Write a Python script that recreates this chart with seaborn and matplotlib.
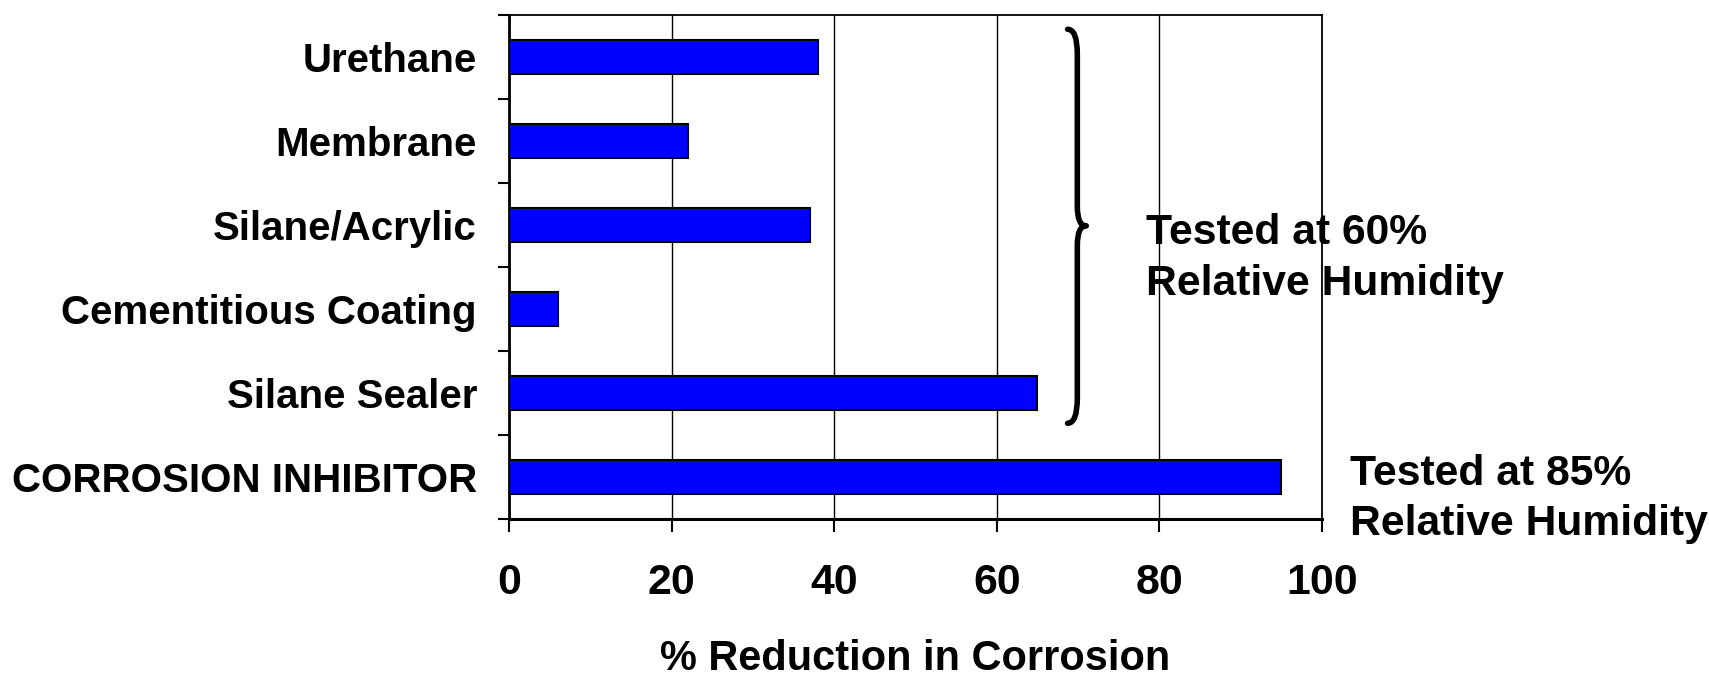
import numpy as np
import pandas as pd
import matplotlib
matplotlib.use("Agg")
import matplotlib.pyplot as plt
from matplotlib.path import Path
from matplotlib.patches import PathPatch
import seaborn as sns

categories = ["Urethane", "Membrane", "Silane/Acrylic", "Cementitious Coating",
              "Silane Sealer", "CORROSION INHIBITOR"]
reduction = [38, 22, 37, 6, 65, 95]
x_ticks = [0, 20, 40, 60, 80, 100]
x_label = "% Reduction in Corrosion"
note_60 = ["Tested at 60%", "Relative Humidity"]
note_85 = ["Tested at 85%", "Relative Humidity"]

sns.set_theme(style="white")
plt.rcParams['font.family'] = ['Liberation Sans', 'DejaVu Sans']
plt.rcParams['font.weight'] = 'bold'
plt.rcParams['text.color'] = 'black'
plt.rcParams['axes.labelcolor'] = 'black'
plt.rcParams['xtick.color'] = 'black'
plt.rcParams['ytick.color'] = 'black'
FS_Y = 29.0
FS_X = 30.8
FS_LBL = 29.9
FS_NOTE = 30.7

df = pd.DataFrame({"cat": categories, "val": reduction})

fig = plt.figure(figsize=(17.09, 6.78), dpi=100)
ax = fig.add_axes([0.2978, 0.2345, 0.4758, 0.7434])

sns.barplot(data=df, x="val", y="cat", orient="h", color="#0000FF",
            saturation=1, edgecolor="black", linewidth=1.5, width=0.4, ax=ax, zorder=3)

ax.set_xlim(0, 100)
ax.set_ylim(len(categories) - 0.5, -0.5)
ax.set_xticks(x_ticks)
ax.set_xticklabels([str(t) for t in x_ticks], fontsize=FS_X, fontweight='bold', color='black')
ax.set_yticks(range(len(categories)))
ax.set_yticklabels(categories, fontsize=FS_Y, fontweight='bold', color='black')
ax.set_yticks(np.arange(-0.5, len(categories), 1.0), minor=True)
ax.tick_params(axis='y', which='major', length=0, pad=23)
ax.tick_params(axis='y', which='minor', length=8, width=1.5, color='black', direction='out', left=True)
ax.tick_params(axis='x', which='major', length=9.5, width=1.5, color='black', direction='out', pad=22, bottom=True)
ax.set_xlabel(x_label, fontsize=FS_LBL, fontweight='bold', labelpad=26, color='black')
ax.set_ylabel("")

ax.grid(axis='x', color='black', linewidth=1.0, zorder=0)
ax.grid(axis='y', visible=False)
ax.set_axisbelow(True)
for side, lw in [("left", 2.0), ("bottom", 2.2), ("top", 1.3), ("right", 1.3)]:
    ax.spines[side].set_visible(True)
    ax.spines[side].set_color('black')
    ax.spines[side].set_linewidth(lw)

# curly brace
y0, ym, y1 = -0.33, 2.01, 4.36
xe, xs, xt = 68.7, 69.9, 71.0
c = 0.3
m = 0.23
verts = [(xe, y0), (xs, y0), (xs, y0 + c),
         (xs, ym - m),
         (xs, ym), (xt, ym),
         (xs, ym), (xs, ym + m),
         (xs, y1 - c),
         (xs, y1), (xe, y1)]
codes = [Path.MOVETO, Path.CURVE3, Path.CURVE3,
         Path.LINETO,
         Path.CURVE3, Path.CURVE3,
         Path.CURVE3, Path.CURVE3,
         Path.LINETO,
         Path.CURVE3, Path.CURVE3]
ax.add_patch(PathPatch(Path(verts, codes), facecolor='none', edgecolor='black',
                       linewidth=4.0, zorder=4, capstyle='round', joinstyle='round'))

ax.text(78.4, 2.09, note_60[0], fontsize=FS_NOTE, fontweight='bold', ha='left', va='center', zorder=5, color='black')
ax.text(78.4, 2.70, note_60[1], fontsize=FS_NOTE, fontweight='bold', ha='left', va='center', zorder=5, color='black')
ax.text(103.4, 4.97, note_85[0], fontsize=FS_NOTE, fontweight='bold', ha='left', va='center', clip_on=False, color='black')
ax.text(103.4, 5.56, note_85[1], fontsize=FS_NOTE, fontweight='bold', ha='left', va='center', clip_on=False, color='black')

fig.savefig("out.png", dpi=100, facecolor='white')
